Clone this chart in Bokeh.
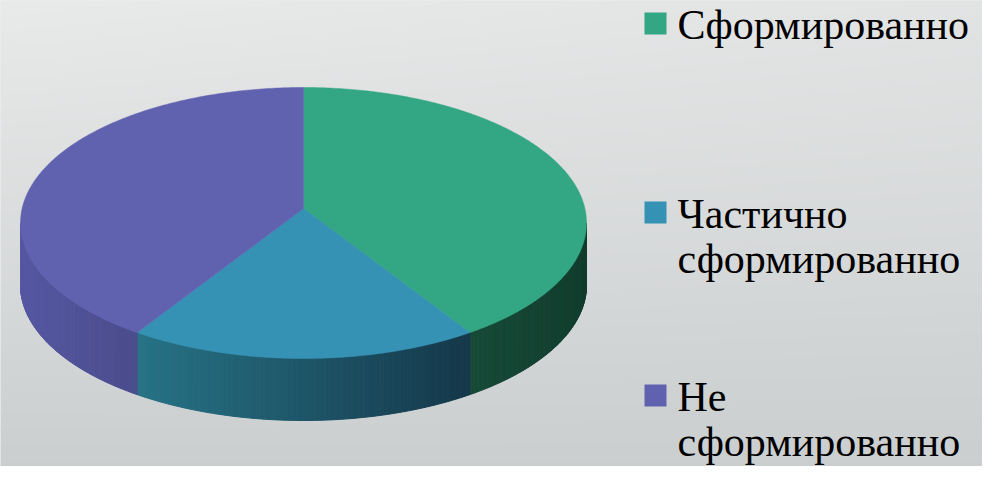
import numpy as np
from bokeh.plotting import figure
from bokeh.models import Range1d
from bokeh.core.properties import value
from bokeh.embed import file_html
from bokeh.resources import INLINE

# ---- data ----
categories = ["Сформированно", "Частично сформированно", "Не сформированно"]
legend_lines = [["Сформированно"], ["Частично", "сформированно"], ["Не", "сформированно"]]
shares = [40, 20, 40]
top_colors = ["#33a683", "#3592b4", "#6062b0"]
side_left_colors = ["#174a38", "#277386", "#5658a2"]
side_right_colors = ["#123d2e", "#15384a", "#4a4c8c"]

# ---- layout constants (reference pixel space) ----
W, H = 982, 466
CX, CY, RA, RB = 303.0, 222.5, 283.0, 135.5
APEX_Y = 208.0
DEPTH = 62.0

p = figure(width=W, height=H, output_backend="svg", toolbar_location=None,
           x_range=Range1d(0, W), y_range=Range1d(H, 0),
           min_border=0)
p.axis.visible = False
p.grid.visible = False
p.outline_line_color = None
p.background_fill_color = "#d8dbdc"
p.border_fill_color = "#d8dbdc"

# background gradient
ny, nx = H, W
ty = np.linspace(0, 1, ny)[:, None]
tx = np.linspace(0, 1, nx)[None, :]
t = np.clip(0.85 * ty + 0.18 * tx * (1 - ty), 0, 1)
top = np.array([0xe9, 0xea, 0xea], dtype=float)
bot = np.array([0xc6, 0xca, 0xcb], dtype=float)
rgb = top[None, None, :] + (bot - top)[None, None, :] * t[:, :, None]
img = np.empty((ny, nx), dtype=np.uint32)
view = img.view(dtype=np.uint8).reshape((ny, nx, 4))
view[:, :, 0] = rgb[:, :, 0].astype(np.uint8)
view[:, :, 1] = rgb[:, :, 1].astype(np.uint8)
view[:, :, 2] = rgb[:, :, 2].astype(np.uint8)
view[:, :, 3] = 255
p.image_rgba(image=[img], x=0, y=0, dw=W, dh=H)


def hex2rgb(h):
    return np.array([int(h[i:i + 2], 16) for i in (1, 3, 5)], dtype=float)


def rgb2hex(c):
    c = np.clip(np.round(c), 0, 255).astype(int)
    return "#%02x%02x%02x" % tuple(c)


def ell(theta):
    return CX + RA * np.sin(theta), CY - RB * np.cos(theta)


total = float(sum(shares))
bounds = np.concatenate([[0.0], np.cumsum(shares) / total * 2 * np.pi])

# side faces (front half: theta in [pi/2, 3pi/2])
sxs, sys_, scol = [], [], []
for i in range(len(shares)):
    a0, a1 = bounds[i], bounds[i + 1]
    lo, hi = max(a0, np.pi / 2), min(a1, 3 * np.pi / 2)
    if hi <= lo:
        continue
    n = max(int((hi - lo) / np.radians(0.5)), 2)
    th = np.linspace(lo, hi, n + 1)
    xs, ys = ell(th)
    xl, xr = xs.min(), xs.max()
    cl, cr = hex2rgb(side_left_colors[i]), hex2rgb(side_right_colors[i])
    for k in range(n):
        sxs.append([xs[k], xs[k + 1], xs[k + 1], xs[k]])
        sys_.append([ys[k], ys[k + 1], ys[k + 1] + DEPTH, ys[k] + DEPTH])
        f = ((xs[k] + xs[k + 1]) / 2 - xl) / max(xr - xl, 1e-6)
        scol.append(rgb2hex(cl + (cr - cl) * f))
p.patches(sxs, sys_, fill_color=scol, line_color=scol, line_width=1)

# top faces
txs, tys = [], []
for i in range(len(shares)):
    th = np.linspace(bounds[i], bounds[i + 1], 240)
    xs, ys = ell(th)
    txs.append([CX] + list(xs))
    tys.append([APEX_Y] + list(ys))
p.patches(txs, tys, fill_color=top_colors, line_color=top_colors, line_width=0.5)

# legend
LEG_X = 644
SQ = 22
TXT_X = 677
ENTRY_TOP = [12, 201, 384]
LINE_H = 45
BASE_OFF = 26 - 14
for i, lines in enumerate(legend_lines):
    y0 = ENTRY_TOP[i]
    p.quad(left=[LEG_X], right=[LEG_X + SQ], top=[y0], bottom=[y0 + SQ],
           fill_color=top_colors[i], line_color=None)
    for j, line in enumerate(lines):
        p.text(x=[TXT_X], y=[y0 + BASE_OFF + j * LINE_H], text=[line],
               text_font=value("Times New Roman"),
               text_font_size="42px",
               text_color="#000000", text_baseline="alphabetic", text_align="left")

open("out.html", "w").write(file_html(p, INLINE))
